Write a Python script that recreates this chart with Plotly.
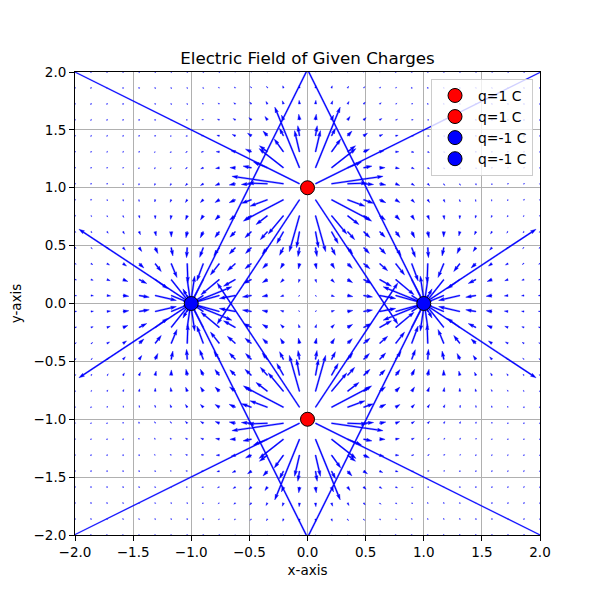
import numpy as np
import plotly.graph_objects as go

# ---- data ----
charge_x = [0.0, 0.0, -1.0, 1.0]
charge_y = [1.0, -1.0, 0.0, 0.0]
charge_q = [1.0, 1.0, -1.0, -1.0]
charge_colors = ["red", "red", "blue", "blue"]
charge_labels = ["q=1 C", "q=1 C", "q=-1 C", "q=-1 C"]
grid_min, grid_max, grid_n = -2.0, 2.0, 30
tick_vals = [-2.0, -1.5, -1.0, -0.5, 0.0, 0.5, 1.0, 1.5, 2.0]

# ---- figure geometry (px); page body has an 8px margin ----
FIG_W, FIG_H = 592, 592
M_L, M_T = 67, 64
AX_W, AX_H = 465, 463
M_R = FIG_W - M_L - AX_W
M_B = FIG_H - M_T - AX_H
ARROW_LENGTH_GAIN = 1.28

# ---- field of the charges on the grid ----
gv = np.linspace(grid_min, grid_max, grid_n)
GX, GY = np.meshgrid(gv, gv)
Ex = np.zeros_like(GX)
Ey = np.zeros_like(GY)
for qx, qy, q in zip(charge_x, charge_y, charge_q):
    dx = GX - qx
    dy = GY - qy
    r3 = (dx ** 2 + dy ** 2) ** 1.5
    Ex += q * dx / r3
    Ey += q * dy / r3

U = Ex.ravel()
V = Ey.ravel()
PX = GX.ravel()
PY = GY.ravel()
mag = np.hypot(U, V)
N = mag.size

# quiver-style autoscale (arrow units = axes width)
sn = max(10.0, np.sqrt(N))
scale = 1.8 * mag.mean() * sn / ARROW_LENGTH_GAIN
width_u = 0.06 / np.clip(np.sqrt(N), 8, 25)
length_w = mag / (scale * width_u)
width_px = width_u * AX_W

headwidth, headlength, headaxislength, minshaft, minlength = 3.0, 5.0, 4.5, 1.0, 1.0
minsh = minshaft * headlength
ii = [0, 1, 2, 3, 2, 1, 0, 0]

xs_all, ys_all = [], []
sx = (grid_max - grid_min) / AX_W
sy = (grid_max - grid_min) / AX_H
for k in range(N):
    L = min(length_w[k], 2 ** 16)
    if L < minlength:
        th = np.arange(8) * np.pi / 3.0
        ax_ = np.cos(th) * minlength * 0.5
        ay_ = np.sin(th) * minlength * 0.5
    elif L < minsh:
        x0 = np.array([0, minsh - headaxislength, minsh - headlength, minsh])
        y0 = 0.5 * np.array([1, 1, headwidth, 0])
        ax_ = x0[ii].copy()
        ay_ = y0[ii].copy()
        ay_[3:-1] *= -1
        shr = L / minsh
        ax_ *= shr
        ay_ *= shr
    else:
        x1 = np.array([0, L - headaxislength, L - headlength, L])
        y1 = 0.5 * np.array([1, 1, headwidth, 0])
        ax_ = x1[ii].copy()
        ay_ = y1[ii].copy()
        ay_[3:-1] *= -1
    ang = np.arctan2(V[k], U[k])
    c, s = np.cos(ang), np.sin(ang)
    rx = (ax_ * c - ay_ * s) * width_px
    ry = (ax_ * s + ay_ * c) * width_px
    xs_all.extend((PX[k] + rx * sx).tolist())
    ys_all.extend((PY[k] + ry * sy).tolist())
    xs_all.append(None)
    ys_all.append(None)

fig = go.Figure()
fig.add_trace(go.Scatter(
    x=xs_all, y=ys_all, mode="lines", fill="toself",
    fillcolor="#0000ff", line=dict(color="#0000ff", width=0.4),
    showlegend=False, hoverinfo="skip",
))

for cx, cy, col, lab in zip(charge_x, charge_y, charge_colors, charge_labels):
    fig.add_trace(go.Scatter(
        x=[cx], y=[cy], mode="markers", name=lab,
        marker=dict(color=col, size=14, line=dict(color="black", width=1)),
    ))

axis_common = dict(
    range=[grid_min, grid_max], tickvals=tick_vals, tickformat=".1f",
    showgrid=True, gridcolor="#b0b0b0", gridwidth=1,
    showline=True, linecolor="black", linewidth=1, mirror=True,
    ticks="outside", ticklen=5, tickcolor="black", tickwidth=1,
    zeroline=False, layer="above traces",
    tickfont=dict(size=13.5, color="black"),
)

fig.update_layout(
    width=FIG_W, height=FIG_H,
    margin=dict(l=M_L, r=M_R, t=M_T, b=M_B, autoexpand=False),
    paper_bgcolor="white", plot_bgcolor="white",
    font=dict(family="DejaVu Sans", color="black", size=13.5),
    title=dict(text="Electric Field of Given Charges", x=0.5, xref="paper",
               xanchor="center", y=1, yref="paper", yanchor="bottom",
               pad=dict(b=8), font=dict(size=16.7)),
    xaxis=dict(axis_common, title=dict(text="x-axis", standoff=6, font=dict(size=13.5))),
    yaxis=dict(axis_common, title=dict(text="y-axis", standoff=10, font=dict(size=13.5))),
    legend=dict(x=0.985, y=0.985, xanchor="right", yanchor="top",
                bgcolor="rgba(255,255,255,0.8)", bordercolor="#cccccc",
                borderwidth=1, font=dict(size=13.9), tracegroupgap=0,
                itemwidth=36),
)

fig.write_html("out.html")
